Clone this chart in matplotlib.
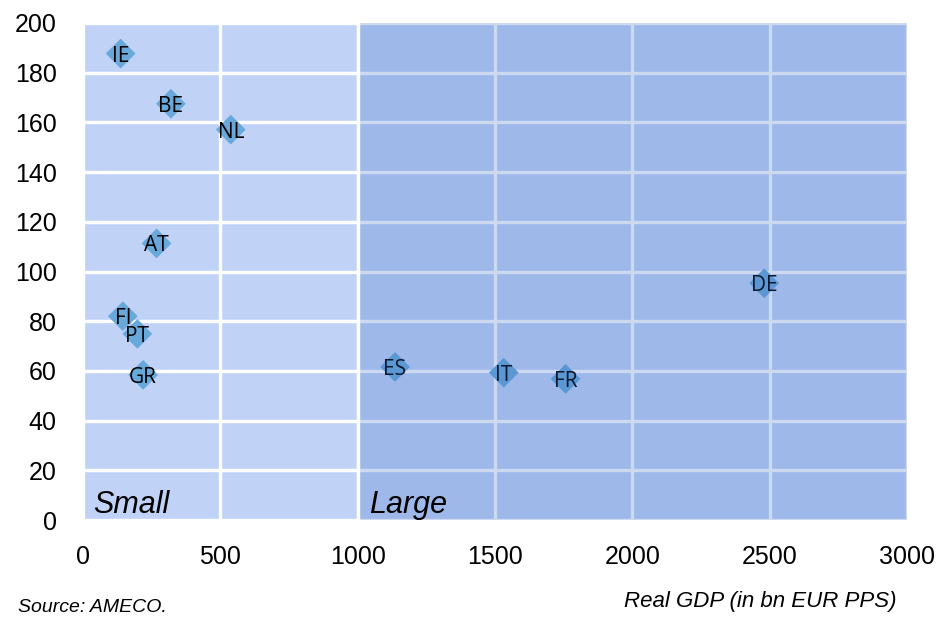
import matplotlib
matplotlib.use("Agg")
import matplotlib.pyplot as plt

countries = ["IE", "BE", "NL", "AT", "FI", "PT", "GR", "ES", "IT", "FR", "DE"]
gdp = [137, 320, 538, 268, 145, 198, 219, 1136, 1532, 1757, 2480]
yvals = [187.7, 167.5, 157.1, 111.3, 82.0, 74.9, 58.4, 61.6, 59.3, 56.8, 95.3]
xticks = [0, 500, 1000, 1500, 2000, 2500, 3000]
yticks = list(range(0, 201, 20))
group_labels = ["Small", "Large"]
group_pos = [36, 1041]
split = 1000

plt.rcParams['font.family'] = ['Liberation Sans', 'DejaVu Sans']

fig = plt.figure(figsize=(9.4, 6.2), dpi=100)
ax = fig.add_axes([83/940, 100/620, 824/940, 497/620])
ax.set_xlim(0, 3000)
ax.set_ylim(0, 200)
ax.set_facecolor('#c0d3f7')
for s in ax.spines.values():
    s.set_visible(False)

for y in yticks:
    ax.axhline(y, color='white', lw=2.4, zorder=1)
for x in xticks:
    ax.axvline(x, color='white', lw=2.4, zorder=1)

ax.scatter(gdp, yvals, marker='D', s=230, color='#68a8da', edgecolors='none', zorder=3)
for c, x, y in zip(countries, gdp, yvals):
    ax.text(x, y, c, ha='center', va='center_baseline', fontsize=15,
            family=['Open Sans', 'DejaVu Sans'], color='black', zorder=4)

# overlay for large economies
ax.axvspan(split, 3000, color=(46/255, 100/255, 192/255), alpha=0.24, lw=0, zorder=10)
ax.axvline(split, color='white', lw=2.4, zorder=11)

for lab, x in zip(group_labels, group_pos):
    ax.text(x, 3, lab, fontsize=22, style='italic', color='black', zorder=12,
            ha='left', va='baseline')

ax.set_xticks(xticks)
ax.set_yticks(yticks)
ax.tick_params(length=0, labelsize=18, colors='black')
ax.tick_params(axis='x', pad=18)
ax.tick_params(axis='y', pad=19)
ax.grid(False)

fig.text(897/940, 1 - 601/620, "Real GDP (in bn EUR PPS)", ha='right', va='center',
         fontsize=16, style='italic')
fig.text(18/940, 1 - 607/620, "Source: AMECO.", ha='left', va='center',
         fontsize=14, style='italic')

fig.savefig("out.png", dpi=100)
